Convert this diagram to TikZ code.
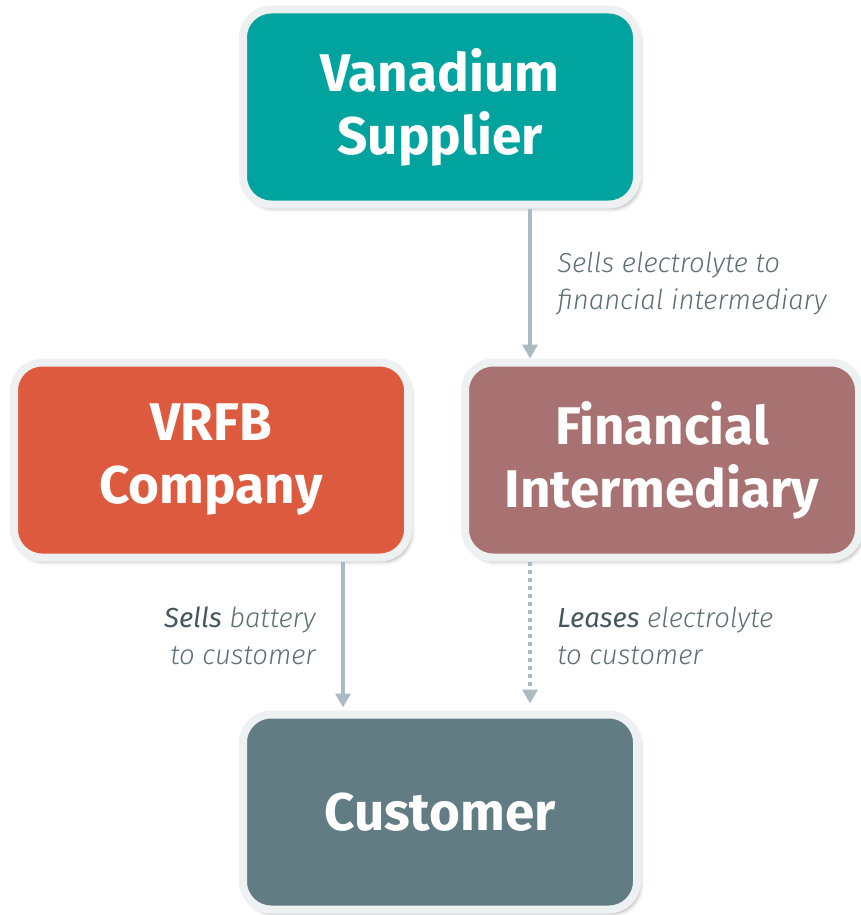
\documentclass[tikz,border=0pt]{standalone}
\usepackage{fontspec}
\setmainfont{Fira Sans}
\newfontfamily\lightfont{Fira Sans Light}[ItalicFont={Fira Sans Light Italic}]
\usetikzlibrary{positioning,arrows.meta,shadows.blur}

\definecolor{vanadio}{HTML}{00A39E}
\definecolor{vrfb}{HTML}{DD5A3E}
\definecolor{financiero}{HTML}{A97272}
\definecolor{cliente}{HTML}{627C83}
\definecolor{borde}{HTML}{EDF1F2}
\definecolor{flecha}{HTML}{AABCC1}
\definecolor{rotulotxt}{HTML}{5E6F74}
\definecolor{enfasis}{HTML}{46575D}

\newcommand{\resalto}[1]{{\rmfamily\itshape\color{enfasis}#1}}

\begin{document}
\begin{tikzpicture}[x=1pt,y=-1pt,
    caja/.style={rounded corners=28pt, draw=borde, line width=8pt,
      minimum width=394pt, minimum height=195pt, text=white, align=center,
      font=\fontsize{53}{63}\selectfont\bfseries,
      blur shadow={shadow xshift=3pt, shadow yshift=-4pt, shadow blur radius=4pt, shadow opacity=35}},
    flujo/.style={draw=flecha, line width=4pt, -{Triangle[width=15pt,length=14pt]}},
    rotulo/.style={font=\lightfont\itshape\fontsize{27.5}{37}\selectfont, text=rotulotxt, align=left}]
  \useasboundingbox (0,0) rectangle (861,915); % Marco de la figura

  % Cajas
  \node[caja, fill=vanadio] (sup) at (440,107) {Vanadium\\Supplier}; % Proveedor de vanadio
  \node[caja, fill=vrfb] (vrfb) at (211,460) {VRFB\\Company}; % Empresa VRFB
  \node[caja, fill=financiero] (fin) at (662,460) {Financial\\Intermediary}; % Intermediario financiero
  \node[caja, fill=cliente] (cli) at (440,812) {Customer}; % Cliente

  % Ejes verticales de las flechas
  \coordinate (ejeA) at (530,0);
  \coordinate (ejeB) at (343,0);

  % Flechas con sus rotulos
  \draw[flujo] (sup.south -| ejeA) -- node[rotulo, right=22pt] {Sells electrolyte to\\financial intermediary} (fin.north -| ejeA); % Venta de electrolito
  \draw[flujo, shorten >=3pt] (vrfb.south -| ejeB) -- node[rotulo, left=22pt, align=right] {\resalto{Sells} battery\\to customer} (cli.north -| ejeB); % Venta de bateria
  \draw[flujo, shorten >=7pt, dash pattern=on 4pt off 4pt] (fin.south -| ejeA) -- node[rotulo, right=22pt] {\resalto{Leases} electrolyte\\to customer} (cli.north -| ejeA); % Arriendo de electrolito
\end{tikzpicture}
\end{document}
